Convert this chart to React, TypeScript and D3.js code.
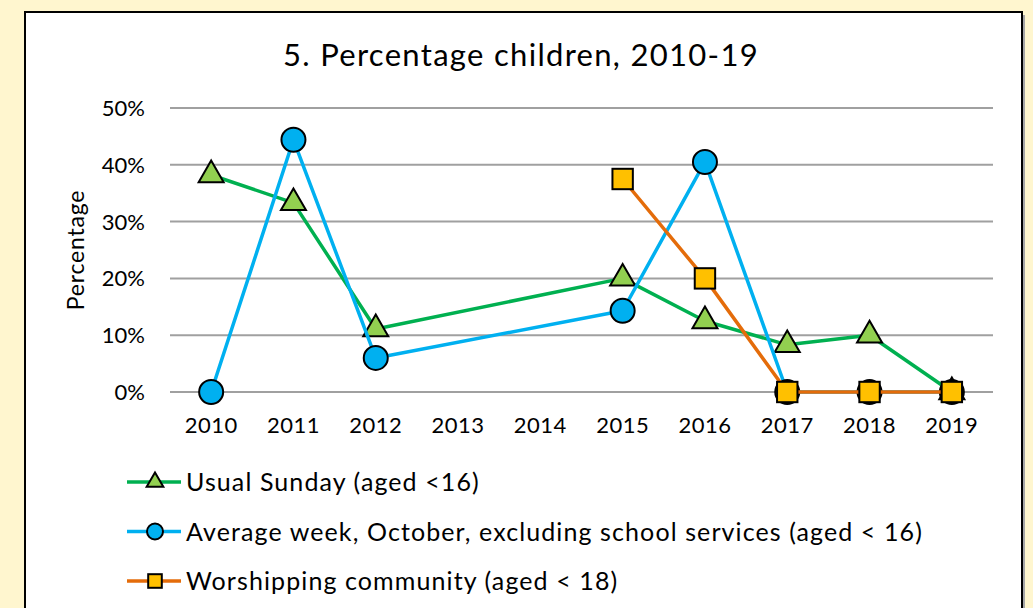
import React from "react";
import * as d3 from "d3";

// Chart data
const years = ["2010", "2011", "2012", "2013", "2014", "2015", "2016", "2017", "2018", "2019"];
const usualSunday: (number | null)[] = [38.2, 33.3, 11.1, null, null, 20.0, 12.5, 8.3, 10.0, 0];
const averageWeek: (number | null)[] = [0, 44.4, 6.0, null, null, 14.3, 40.5, 0, 0, 0];
const worshipping: (number | null)[] = [null, null, null, null, null, 37.5, 20.0, 0, 0, 0];
const yTicks = [0, 10, 20, 30, 40, 50];
const seriesNames = [
  "Usual Sunday (aged <16)",
  "Average week, October, excluding school services (aged < 16)",
  "Worshipping community (aged < 18)",
];

const FONT = "Lato, 'Open Sans', sans-serif";

type Pt = { year: string; value: number };

const toPoints = (vals: (number | null)[]): Pt[] =>
  years
    .map((y, i) => ({ year: y, value: vals[i] }))
    .filter((d) => d.value !== null) as Pt[];

const App: React.FC = () => {
  const width = 1033;
  const height = 608;

  // scales
  const x = d3.scaleBand<string>().domain(years).range([170, 993]).padding(0);
  const y = d3.scaleLinear().domain([0, 50]).range([392, 108]);
  const cx = (yr: string) => (x(yr) ?? 0) + x.bandwidth() / 2;

  const line = d3
    .line<Pt>()
    .x((d) => cx(d.year))
    .y((d) => y(d.value));

  const series = [
    { name: seriesNames[0], pts: toPoints(usualSunday), stroke: "#00B050", fill: "#92D050", shape: "triangle" },
    { name: seriesNames[1], pts: toPoints(averageWeek), stroke: "#00B0F0", fill: "#00B0F0", shape: "circle" },
    { name: seriesNames[2], pts: toPoints(worshipping), stroke: "#E46C0A", fill: "#FFC000", shape: "square" },
  ];

  const marker = (shape: string, px: number, py: number, size: number, fill: string, key?: string) => {
    if (shape === "circle") {
      return <circle key={key} cx={px} cy={py} r={size / 2} fill={fill} stroke="#000" strokeWidth={2} />;
    }
    if (shape === "square") {
      const s = size * 0.85;
      return <rect key={key} x={px - s / 2} y={py - s / 2} width={s} height={s} fill={fill} stroke="#000" strokeWidth={2} />;
    }
    const tri = d3.symbol(d3.symbolTriangle, size * size * 0.47)();
    return <path key={key} d={tri ?? ""} transform={`translate(${px},${py})`} fill={fill} stroke="#000" strokeWidth={2} strokeLinejoin="miter" />;
  };

  return (
    <svg width={width} height={height} style={{ position: "absolute", left: 0, top: 0 }}>
      <rect x={0} y={0} width={width} height={height} fill="#FFF6CF" />
      {/* frame shadow + box */}
      <rect x={28} y={15} width={997} height={620} fill="#A6A6A6" />
      <rect x={25} y={12} width={997} height={620} fill="#fff" stroke="#000" strokeWidth={2} />

      <text x={521} y={66} textAnchor="middle" fontFamily={FONT} fontSize={31} letterSpacing={1.3} fill="#000">
        5. Percentage children, 2010-19
      </text>

      {/* gridlines and y labels */}
      {yTicks.map((t) => (
        <g key={t}>
          <line x1={170} x2={993} y1={y(t)} y2={y(t)} stroke="#A0A0A0" strokeWidth={2} />
          <text x={145} y={y(t) + 8} textAnchor="end" fontFamily={FONT} fontSize={22} fill="#000">
            {t}%
          </text>
        </g>
      ))}

      <text
        transform={`translate(84,250) rotate(-90)`}
        textAnchor="middle"
        fontFamily={FONT}
        fontSize={23}
        letterSpacing={0.8}
        fill="#000"
      >
        Percentage
      </text>

      {years.map((yr) => (
        <text key={yr} x={cx(yr)} y={433} textAnchor="middle" fontFamily={FONT} fontSize={22} letterSpacing={0.5} fill="#000">
          {yr}
        </text>
      ))}

      {series.map((s) => (
        <g key={s.name}>
          <path d={line(s.pts) ?? ""} fill="none" stroke={s.stroke} strokeWidth={3.5} strokeLinejoin="round" />
          {s.pts.map((d) => marker(s.shape, cx(d.year), y(d.value), 24, s.fill, d.year))}
        </g>
      ))}

      {/* legend */}
      {series.map((s, i) => {
        const ly = 482 + i * 49.5;
        return (
          <g key={"lg" + i}>
            <line x1={127} x2={181} y1={ly} y2={ly} stroke={s.stroke} strokeWidth={3.5} />
            {marker(s.shape, 155, ly, 16, s.fill)}
            <text x={186} y={ly + 9} fontFamily={FONT} fontSize={25} letterSpacing={1.1} fill="#000">
              {s.name}
            </text>
          </g>
        );
      })}
    </svg>
  );
};

export default App;
